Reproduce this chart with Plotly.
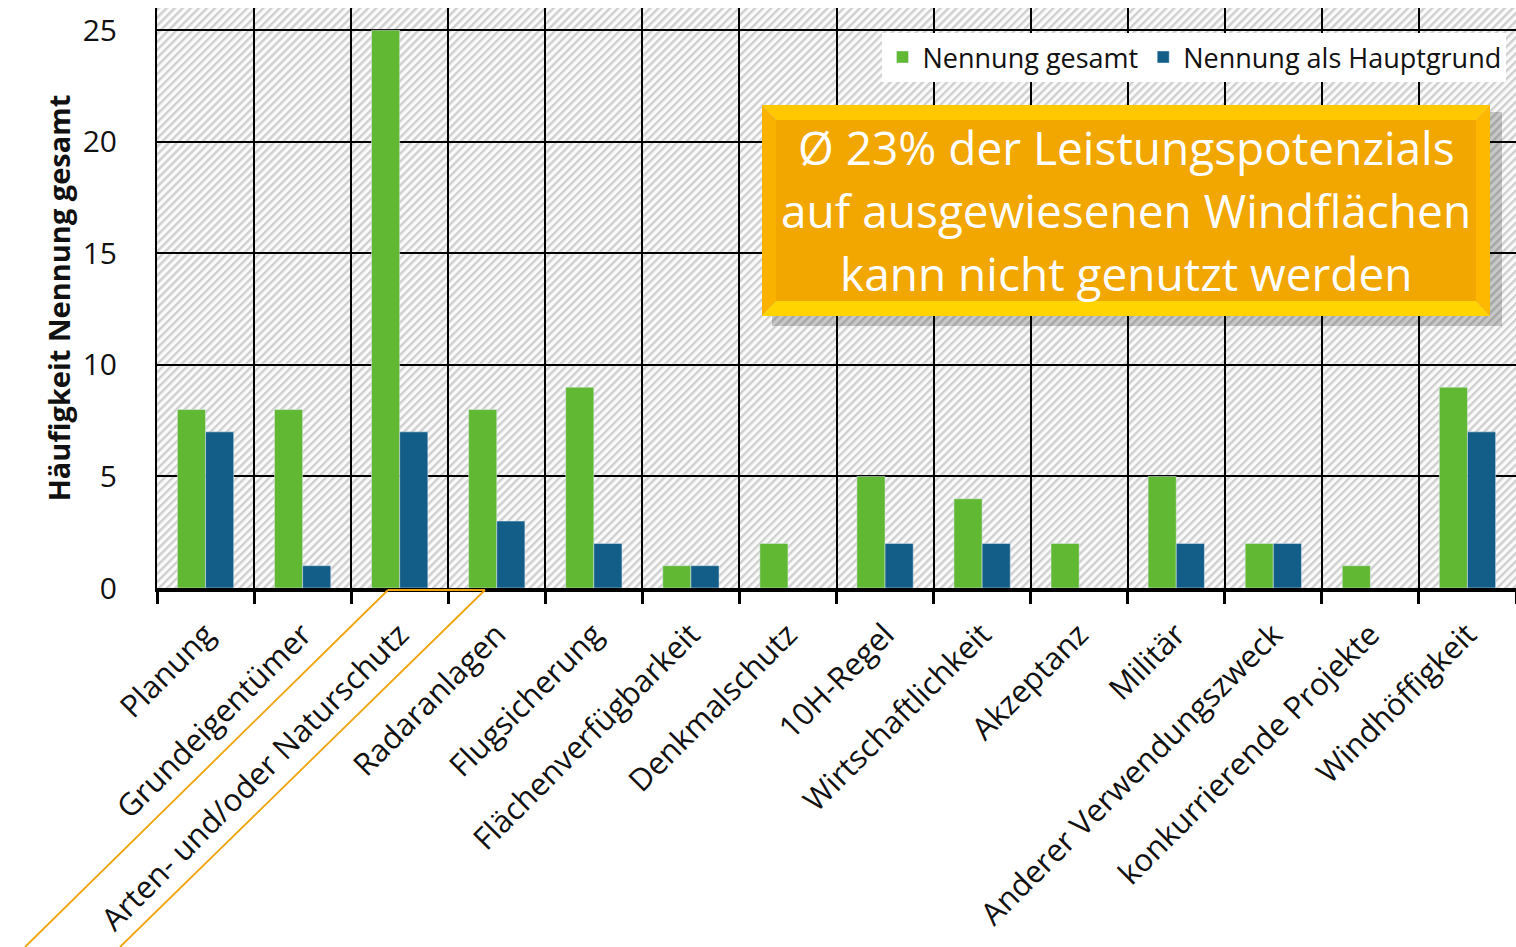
import base64
import plotly.graph_objects as go

categories = ["Planung", "Grundeigentümer", "Arten- und/oder Naturschutz", "Radaranlagen",
              "Flugsicherung", "Flächenverfügbarkeit", "Denkmalschutz", "10H-Regel",
              "Wirtschaftlichkeit", "Akzeptanz", "Militär", "Anderer Verwendungszweck",
              "konkurrierende Projekte", "Windhöffigkeit"]
gesamt = [8, 8, 25, 8, 9, 1, 2, 5, 4, 2, 5, 2, 1, 9]
hauptgrund = [7, 1, 7, 3, 2, 1, 0, 2, 2, 0, 2, 2, 0, 7]
box_lines = ["Ø 23% der Leistungspotenzials", "auf ausgewiesenen Windflächen",
             "kann nicht genutzt werden"]

FONT = "Open Sans"
W, H = 1516, 947
L, R, T, B = 157, 0, 8, 359
PW, PH = W - L - R, H - T - B


def px2paper(x, y):
    return (x - L) / PW, (H - B - y) / PH


# hatched plot background as an svg image
svg = (f'<svg xmlns="http://www.w3.org/2000/svg" width="{PW}" height="{PH}">'
       '<defs><pattern id="h" width="5.7" height="5.7" patternUnits="userSpaceOnUse" '
       'patternTransform="rotate(45)"><rect width="5.7" height="5.7" fill="#fbfbfb"/>'
       '<rect x="0" y="0" width="2.4" height="5.7" fill="#cfcfcf"/></pattern></defs>'
       '<rect width="100%" height="100%" fill="url(#h)"/></svg>')
bg_src = "data:image/svg+xml;base64," + base64.b64encode(svg.encode()).decode()

fig = go.Figure()
fig.add_trace(go.Bar(x=categories, y=gesamt, name="Nennung gesamt", marker_color="#61b833"))
fig.add_trace(go.Bar(x=categories, y=hauptgrund, name="Nennung als Hauptgrund", marker_color="#135e88"))

fig.update_layout(
    width=W, height=H,
    margin=dict(l=L, r=R, t=T, b=B, autoexpand=False),
    paper_bgcolor="white", plot_bgcolor="white",
    barmode="group", bargap=0.42, bargroupgap=0,
    font=dict(family=FONT, color="#111111"),
    legend=dict(orientation="h", x=0.993, xanchor="right", y=0.957, yanchor="top",
                bgcolor="white", font=dict(size=27, family=FONT), itemwidth=30,
                traceorder="normal"),
    images=[dict(source=bg_src, xref="paper", yref="paper", x=0, y=1, sizex=1, sizey=1,
                 sizing="stretch", layer="below")],
)

fig.update_xaxes(
    type="category", range=[-0.5, 13.5], tickson="boundaries", automargin=False,
    showgrid=True, gridcolor="black", gridwidth=2,
    showline=True, linecolor="black", linewidth=4,
    ticks="outside", ticklen=12, tickwidth=3, tickcolor="black", ticklabelstandoff=12,
    tickangle=-45, tickfont=dict(size=31, family=FONT, color="#111111"),
)
fig.update_yaxes(
    range=[0, 26], tickvals=[0, 5, 10, 15, 20, 25], automargin=False,
    showgrid=True, gridcolor="black", gridwidth=2, zeroline=False,
    showline=True, linecolor="black", linewidth=2,
    tickfont=dict(size=30, family=FONT, color="#111111"), ticks="", ticklabelstandoff=32,
    title=dict(text="<b>Häufigkeit Nennung gesamt</b>", font=dict(size=29, family=FONT),
               standoff=4),
)

# orange info box with bevel and shadow
bx0, by0 = px2paper(762, 316)
bx1, by1 = px2paper(1490, 105)
ix0, iy0 = px2paper(776, 301)
ix1, iy1 = px2paper(1476, 120)
sx0, sy0 = px2paper(772, 326)
sx1, sy1 = px2paper(1502, 112)
fig.add_shape(type="rect", xref="paper", yref="paper", x0=sx0, y0=sy0, x1=sx1, y1=sy1,
              fillcolor="rgba(0,0,0,0.2)", line_width=0, layer="above")


def quad(pts, color):
    path = "M " + " L ".join(f"{x},{y}" for x, y in pts) + " Z"
    fig.add_shape(type="path", xref="paper", yref="paper", path=path,
                  fillcolor=color, line_width=0, layer="above")


quad([(bx0, by1), (bx1, by1), (ix1, iy1), (ix0, iy1)], "#ffc800")   # top
quad([(bx0, by1), (ix0, iy1), (ix0, iy0), (bx0, by0)], "#f9b200")   # left
quad([(bx0, by0), (ix0, iy0), (ix1, iy0), (bx1, by0)], "#ffd400")   # bottom
quad([(bx1, by1), (bx1, by0), (ix1, iy0), (ix1, iy1)], "#ffb800")   # right
fig.add_shape(type="rect", xref="paper", yref="paper", x0=ix0, y0=iy0, x1=ix1, y1=iy1,
              fillcolor="#f2a600", line_width=0, layer="above")
for i, line in enumerate(box_lines):
    _, ty = px2paper(0, 147 + 63 * i)
    fig.add_annotation(xref="paper", yref="paper", x=(bx0 + bx1) / 2, y=ty,
                       xanchor="center", yanchor="middle", text=line, showarrow=False,
                       font=dict(size=46, color="white", family=FONT))

# orange outline around the highlighted category label
ox0, oy = px2paper(388, 590)
ox1, _ = px2paper(485, 590)
lx0, ly = px2paper(25, 947)
lx1, _ = px2paper(120, 947)
for a, b2 in [((ox0, oy), (ox1, oy)), ((ox0, oy), (lx0, ly)), ((ox1, oy), (lx1, ly))]:
    fig.add_shape(type="line", xref="paper", yref="paper", x0=a[0], y0=a[1], x1=b2[0], y1=b2[1],
                  line=dict(color="#f0a30a", width=1.8), layer="above")

fig.write_html("out.html", config={"displayModeBar": False},
               post_script="document.body.style.margin='0';")
